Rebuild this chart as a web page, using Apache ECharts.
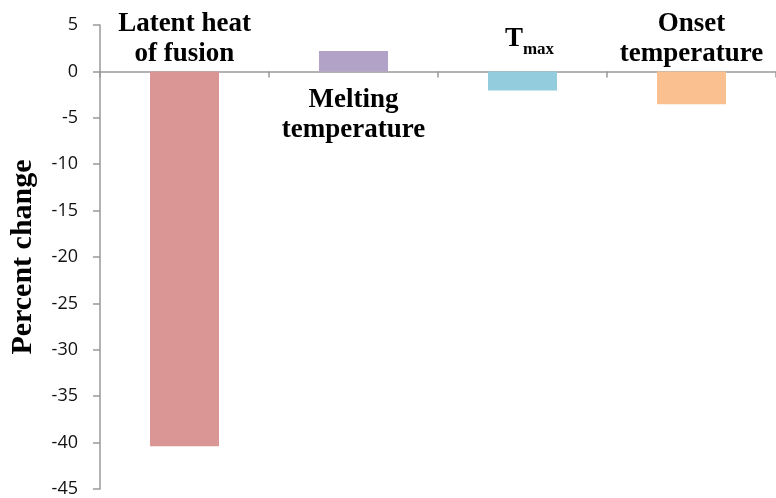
<!DOCTYPE html>
<html>
<head>
<meta charset="utf-8">
<script src="https://cdn.jsdelivr.net/npm/echarts@6/dist/echarts.min.js"></script>
<style>html,body{margin:0;padding:0;background:#fff;}#c{width:776px;height:498px;}</style>
</head>
<body>
<div id="c"></div>
<script>
const categories = ['Latent heat of fusion', 'Melting temperature', 'Tmax', 'Onset temperature'];
const values = [-40.4, 2.2, -2.05, -3.55];
const barLabels = ['Latent heat\nof fusion', 'Melting\ntemperature', '{t|T}{s|max}', 'Onset\ntemperature'];
const barColors = ['#D99694', '#B3A2C7', '#93CDDD', '#FAC090'];
const yTicks = { min: -45, max: 5, interval: 5 };
const yTitle = 'Percent change';

const serif = '"Liberation Serif", "Times New Roman", serif';
const chart = echarts.init(document.getElementById('c'), null, { renderer: 'canvas' });

const data = values.map((v, i) => {
  const positive = v > 0;
  const isSub = barLabels[i].indexOf('{') === 0;
  return {
    value: v,
    itemStyle: { color: barColors[i] },
    label: {
      show: true,
      position: positive ? 'bottom' : 'top',
      distance: positive ? 14 : (isSub ? 17 : 2),
      offset: isSub ? [7, 0] : [0, 0],
      formatter: barLabels[i],
      fontFamily: serif,
      fontWeight: 'bold',
      fontSize: 27,
      lineHeight: 30,
      color: '#000',
      rich: {
        t: { fontFamily: serif, fontWeight: 'bold', fontSize: 27, lineHeight: 30, color: '#000' },
        s: { fontFamily: serif, fontWeight: 'bold', fontSize: 17, lineHeight: 30, color: '#000', padding: [20, 0, 0, 0] }
      }
    }
  };
});

chart.setOption({
  animation: false,
  grid: { left: 100, right: -5, top: 25, bottom: 8, containLabel: false },
  xAxis: {
    type: 'category',
    data: categories,
    axisLine: { onZero: true, lineStyle: { color: '#999', width: 1.5 } },
    axisTick: { show: true, length: 6, lineStyle: { color: '#999', width: 1.5 } },
    axisLabel: { show: false },
    splitLine: { show: false }
  },
  yAxis: {
    type: 'value',
    min: yTicks.min,
    max: yTicks.max,
    interval: yTicks.interval,
    name: yTitle,
    nameLocation: 'middle',
    nameRotate: 90,
    nameGap: 62,
    nameTextStyle: { fontFamily: serif, fontWeight: 'bold', fontSize: 30, color: '#000' },
    axisLine: { show: true, lineStyle: { color: '#999', width: 1.5 } },
    axisTick: { show: true, length: 7, lineStyle: { color: '#999', width: 1.5 } },
    axisLabel: { margin: 22, fontFamily: '"Open Sans", "Liberation Sans", sans-serif', fontSize: 18, color: '#111' },
    splitLine: { show: false }
  },
  series: [{
    type: 'bar',
    data: data,
    barWidth: 69
  }]
});
</script>
</body>
</html>
